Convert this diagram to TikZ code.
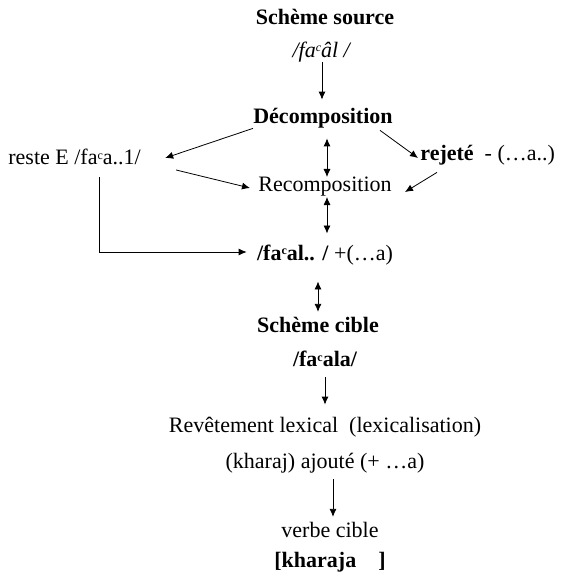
\documentclass[tikz,border=0pt]{standalone}
\usepackage{fontspec}
\setmainfont{Liberation Serif}
\usepackage{tikz}
\usetikzlibrary{arrows.meta}
\newcommand{\ain}{\raisebox{0.55ex}{\fontsize{6}{6}\selectfont c}}

\begin{document}
\begin{tikzpicture}[x=0.5pt, y=-0.5pt,
    lab/.style={inner sep=0pt, font=\fontsize{11}{13}\selectfont},
    hd/.style={lab, font=\fontsize{11}{13}\selectfont\bfseries},
    arr/.style={-{Latex[length=4pt,width=3.5pt]}, thin},
    darr/.style={{Latex[length=4pt,width=3.5pt]}-{Latex[length=4pt,width=3.5pt]}, thin}]
  \useasboundingbox (0,0) rectangle (561,573);
  % source scheme
  \node[hd] (src) at (325,17) {Schème source};
  \node[lab] (srcf) at (322,52) {\textit{/fa\ain âl /}};
  % decomposition
  \node[hd] (dec) at (323,118) {Décomposition};
  \node[lab, anchor=west] (reste) at (8,157) {reste E /fa\ain a..1/};
  \node[lab, anchor=west] (rej) at (420,155) {\textbf{rejeté}~~-~(…a..)};
  \node[lab] (rec) at (325,187) {Recomposition};
  \node[lab] (mid) at (325,255) {\textbf{/fa\ain al.. /} +(…a)};
  % target scheme
  \node[hd] (cib) at (318,325) {Schème cible};
  \node[hd] (cibf) at (325,359) {/fa\ain ala/};
  \node[lab] (rev) at (325,427) {Revêtement lexical~~(lexicalisation)};
  \node[lab] (kha) at (325,463) {(kharaj) ajouté (+ …a)};
  \node[lab] (vrb) at (330,530) {verbe cible};
  \node[hd] (res) at (330,562) {[kharaja~~~~]};
  % vertical arrows
  \draw[arr, shorten >=4pt] (srcf.south) -- (srcf.south |- dec.north);
  \draw[darr, shorten <=5pt, shorten >=0pt] ([shift={(4,0)}]dec.south) -- ([shift={(2,0)}]rec.north);
  \draw[darr, shorten <=0pt, shorten >=5.5pt] ([shift={(2,0)}]rec.south) -- ([shift={(2,0)}]mid.north);
  \draw[darr, shorten <=8pt, shorten >=2.5pt] ([shift={(-7,0)}]mid.south) -- (cib.north);
  \draw[arr, shorten <=5pt, shorten >=6pt] (cibf.south) -- (cibf.south |- rev.north);
  \draw[arr, shorten <=3pt, shorten >=2.5pt] ([shift={(8,0)}]kha.south) -- ([shift={(3,0)}]vrb.north);
  % side branches
  \draw[arr] (dec.south west) -- ([shift={(24,1)}]reste.east);
  \draw[arr] ([shift={(35,13)}]reste.east) -- ([shift={(-8,1)}]rec.west);
  \draw[arr] ([shift={(-13,2)}]dec.south east) -- ([shift={(-2,3)}]rej.west);
  \draw[arr] ([shift={(17,7)}]rej.south west) -- ([shift={(13,5)}]rec.east);
  \draw[arr] ([shift={(25,12)}]reste.south) |- ([shift={(-10,-3)}]mid.west);
\end{tikzpicture}
\end{document}
